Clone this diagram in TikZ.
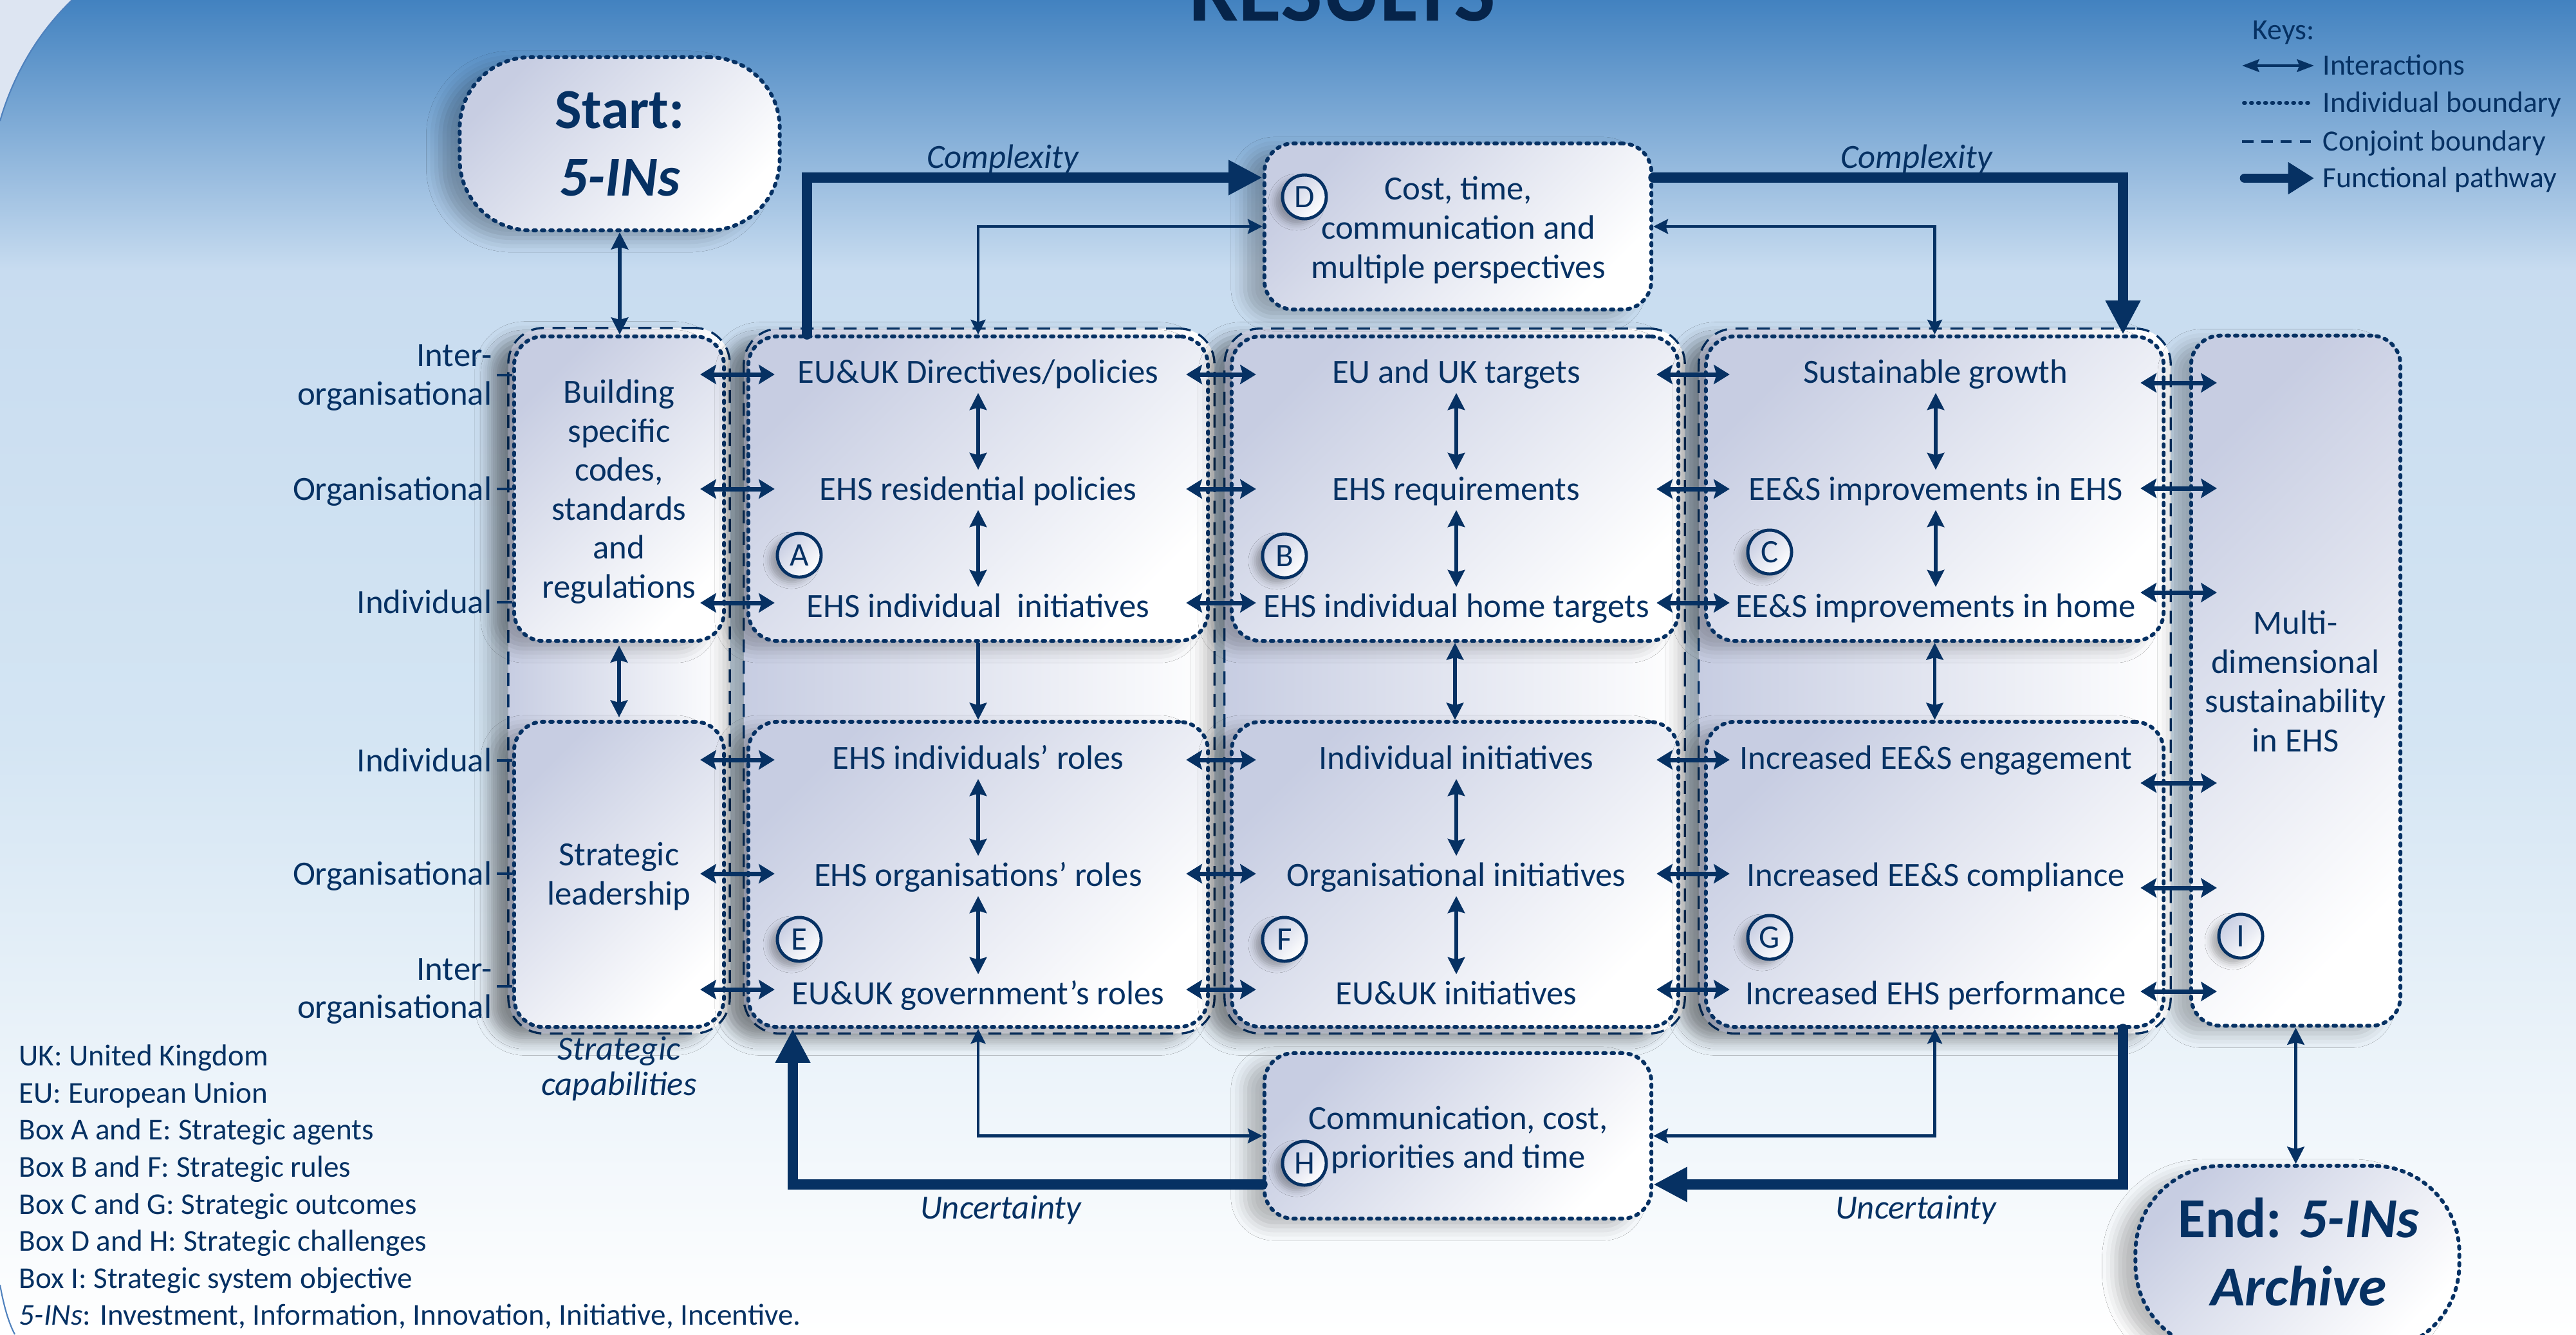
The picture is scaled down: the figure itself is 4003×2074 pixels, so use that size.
\documentclass[tikz,border=0pt]{standalone}
\usepackage{fontspec}
\setmainfont{Carlito}
\usetikzlibrary{arrows.meta,shadows.blur,calc}
\definecolor{navy}{HTML}{063163}
\definecolor{titlec}{HTML}{06244A}
\definecolor{boxtop}{HTML}{C7CDE2}
\definecolor{bgA}{HTML}{4282C0}
\definecolor{bgB}{HTML}{C8DCF0}
\definecolor{bgC}{HTML}{D4E5F3}
\definecolor{cornerc}{HTML}{DDE5F2}
\definecolor{arcc}{HTML}{4F81BD}
\newcommand\myfmain{\fontsize{15pt}{18pt}\selectfont}
\newcommand\myfnote{\fontsize{13.4pt}{16pt}\selectfont}
\newcommand\myfkey{\fontsize{13pt}{15.5pt}\selectfont}
\newcommand\myfbig{\fontsize{25pt}{30pt}\selectfont\bfseries}
\newcommand\myftitle{\fontsize{39pt}{45pt}\selectfont\bfseries}
\newcommand\myflet{\fontsize{14.5pt}{17pt}\selectfont}
\tikzset{
 tl/.style={font=\myfmain, text=navy, inner sep=0pt, text height=9.66pt, text depth=0pt},
 til/.style={tl, font=\myfmain\itshape},
 lbl/.style={tl, anchor=east},
 nl/.style={font=\myfnote, text=navy, inner sep=0pt, text height=8.6pt, text depth=0pt, anchor=west},
 kl/.style={font=\myfkey, text=navy, inner sep=0pt, text height=8.4pt, text depth=0pt, anchor=west},
 bl/.style={font=\myfbig, text=navy, inner sep=0pt, text height=16.1pt, text depth=0pt},
 sh/.style={blur shadow={shadow xshift=-0.3cm, shadow yshift=-0.12cm, shadow opacity=26, shadow blur radius=0.22cm}},
 dotbox/.style={draw=navy, line width=1.7pt, dash pattern=on 1.1pt off 2.6pt, line cap=round, rounded corners=0.45cm, top color=boxtop, bottom color=white, shading angle=45, sh, inner sep=0pt},
 conjbox/.style={draw=navy, line width=0.95pt, dash pattern=on 5.7pt off 3.8pt, rounded corners=0.55cm, left color=boxtop, right color=white, sh, inner sep=0pt},
 letc/.style={circle, draw=navy, line width=1.4pt, minimum size=0.68cm, top color=boxtop, bottom color=white, shading angle=45, font=\myflet, text=navy, inner sep=0pt, text height=9.3pt, text depth=0pt, blur shadow={shadow xshift=-0.12cm, shadow yshift=-0.08cm, shadow opacity=30, shadow blur radius=0.1cm}},
 ia/.style={draw=navy, line width=2pt, {Stealth[length=7pt,width=8.5pt,inset=1.2pt]}-{Stealth[length=7pt,width=8.5pt,inset=1.2pt]}},
 va/.style={draw=navy, line width=1.5pt, {Stealth[length=7.5pt,width=7.5pt,inset=1pt]}-{Stealth[length=7.5pt,width=7.5pt,inset=1pt]}},
 vaone/.style={draw=navy, line width=1.5pt, -{Stealth[length=7.5pt,width=7.5pt,inset=1pt]}},
 ca/.style={draw=navy, line width=1.3pt, {Stealth[length=6.5pt,width=6.5pt,inset=1pt]}-{Stealth[length=6.5pt,width=6.5pt,inset=1pt]}},
 pa/.style={draw=navy, line width=4.5pt, line cap=round, -{Triangle[length=15pt,width=14.5pt]}},
 tickln/.style={draw=navy, line width=1.3pt},
}
\begin{document}
\begin{tikzpicture}[x=0.01cm,y=-0.01cm]
\useasboundingbox (0,0) rectangle (4003,2074);
% background
\fill[top color=bgA, bottom color=bgB] (0,0) rectangle (4003,421);
\fill[top color=bgB, bottom color=bgC] (0,420) rectangle (4003,1151);
\fill[top color=bgC, bottom color=white] (0,1150) rectangle (4003,2074);
\fill[cornerc] (0,0) -- (112,0) .. controls (62,48) and (22,112) .. (0,188) -- cycle;
\draw[arcc, line width=0.6pt] (112,0) .. controls (62,48) and (22,112) .. (0,188);
\fill[white] (0,1997) .. controls (6,2030) and (13,2055) .. (23,2074) -- (0,2074) -- cycle;
\draw[arcc, line width=0.6pt] (0,1997) .. controls (6,2030) and (13,2055) .. (23,2074);
% title
\node[font=\myftitle, text=titlec, anchor=base, inner sep=0pt] (title) at (2086,32) {RESULTS};
% conjoint boundaries
\node[conjbox, minimum width=3.44cm, minimum height=10.96cm] (j0) at (962,1058) {};
\node[conjbox, minimum width=7.31cm, minimum height=10.95cm] (jA) at (1521.5,1058.5) {};
\node[conjbox, minimum width=7.15cm, minimum height=10.95cm] (jB) at (2260.5,1058.5) {};
\node[conjbox, minimum width=7.33cm, minimum height=10.95cm] (jC) at (3006.5,1058.5) {};
% individual boxes
\node[dotbox, minimum width=3.26cm, minimum height=4.73cm] (b0u) at (962,759.5) {};
\node[dotbox, minimum width=3.26cm, minimum height=4.74cm] (b0l) at (962,1359) {};
\node[dotbox, minimum width=7.14cm, minimum height=4.73cm] (Au) at (1520,759.5) {};
\node[dotbox, minimum width=7.14cm, minimum height=4.74cm] (Al) at (1520,1359) {};
\node[dotbox, minimum width=6.94cm, minimum height=4.73cm] (Bu) at (2261,759.5) {};
\node[dotbox, minimum width=6.94cm, minimum height=4.74cm] (Bl) at (2261,1359) {};
\node[dotbox, minimum width=7.11cm, minimum height=4.73cm] (Cu) at (3006.5,759.5) {};
\node[dotbox, minimum width=7.11cm, minimum height=4.74cm] (Cl) at (3006.5,1359) {};
\node[dotbox, minimum width=3.25cm, minimum height=10.72cm] (Ib) at (3567.5,1058) {};
\node[dotbox, minimum width=6.01cm, minimum height=2.58cm] (D) at (2265.5,352) {};
\node[dotbox, minimum width=6.01cm, minimum height=2.57cm] (H) at (2265.5,1765.5) {};
\node[dotbox, rounded corners=1.1cm, minimum width=4.97cm, minimum height=2.69cm] (S) at (963,223.5) {};
\node[dotbox, rounded corners=1.35cm, minimum width=5.03cm, minimum height=2.88cm] (End) at (3570,1956) {};
% circled letters
\node[letc] (cA) at (1242,863) {A};
\node[letc] (cB) at (1996,864) {B};
\node[letc] (cC) at (2750,858) {C};
\node[letc] (cD) at (2027,306) {D};
\node[letc] (cE) at (1242,1460) {E};
\node[letc] (cF) at (1996,1460) {F};
\node[letc] (cG) at (2750,1457) {G};
\node[letc] (cH) at (2027,1808) {H};
\node[letc] (cI) at (3482,1455) {I};
% start / end
\node[bl] (s1) at (963,171) {Start:};
\node[bl] (s2) at (963,276) {\itshape 5-INs};
\node[bl] (n1) at (3572,1895) {End: \textit{5-INs}};
\node[bl] (n2) at (3572,2001) {\itshape Archive};
% column 0
\node[tl] (t0a) at (962,609) {Building};
\node[tl] (t0b) at (962,670) {specific};
\node[tl] (t0c) at (962,730) {codes,};
\node[tl] (t0d) at (962,791) {standards};
\node[tl] (t0e) at (962,851) {and};
\node[tl] (t0f) at (962,912) {regulations};
\node[tl] (t0g) at (962,1328) {Strategic};
\node[tl] (t0h) at (962,1389) {leadership};
\node[til] (sc1) at (962,1630) {Strategic};
\node[til] (sc2) at (962,1685) {capabilities};
% column A/E
\node[tl] (a1) at (1520,578) {EU\&UK Directives/policies};
\node[tl] (a2) at (1520,760) {EHS residential policies};
\node[tl] (a3) at (1520,942) {EHS individual\ \ initiatives};
\node[tl] (e1) at (1520,1178) {EHS individuals’ roles};
\node[tl] (e2) at (1520,1360) {EHS organisations’ roles};
\node[tl] (e3) at (1520,1544) {EU\&UK government’s roles};
% column B/F
\node[tl] (b1) at (2263,578) {EU and UK targets};
\node[tl] (b2) at (2263,760) {EHS requirements};
\node[tl] (b3) at (2263,942) {EHS individual home targets};
\node[tl] (f1) at (2263,1178) {Individual initiatives};
\node[tl] (f2) at (2263,1360) {Organisational initiatives};
\node[tl] (f3) at (2263,1544) {EU\&UK initiatives};
% column C/G
\node[tl] (c1) at (3008,578) {Sustainable growth};
\node[tl] (c2) at (3008,760) {EE\&S improvements in EHS};
\node[tl] (c3) at (3008,942) {EE\&S improvements in home};
\node[tl] (g1) at (3008,1178) {Increased EE\&S engagement};
\node[tl] (g2) at (3008,1360) {Increased EE\&S compliance};
\node[tl] (g3) at (3008,1544) {Increased EHS performance};
% column I
\node[tl] (i1) at (3567,968) {Multi-};
\node[tl] (i2) at (3567,1029) {dimensional};
\node[tl] (i3) at (3567,1090) {sustainability};
\node[tl] (i4) at (3567,1151) {in EHS};
% D and H
\node[tl] (d1) at (2266,293) {Cost, time,};
\node[tl] (d2) at (2266,354) {communication and};
\node[tl] (d3) at (2266,415) {multiple perspectives};
\node[tl] (h1) at (2266,1738) {Communication, cost,};
\node[tl] (h2) at (2266,1798) {priorities and time};
% pathway labels
\node[til] (cx1) at (1558,244) {Complexity};
\node[til] (cx2) at (2978,244) {Complexity};
\node[til] (un1) at (1555,1877) {Uncertainty};
\node[til] (un2) at (2977,1877) {Uncertainty};
% left labels
\node[lbl] (l1a) at (765,552) {Inter-};
\node[lbl] (l1b) at (765,612) {organisational};
\node[lbl] (l2) at (765,760) {Organisational};
\node[lbl] (l3) at (765,936) {Individual};
\node[lbl] (l4) at (765,1182) {Individual};
\node[lbl] (l5) at (765,1358) {Organisational};
\node[lbl] (l6a) at (765,1506) {Inter-};
\node[lbl] (l6b) at (765,1565) {organisational};
\coordinate (tk1) at (772,583);
\coordinate (tk2) at (772,760);
\coordinate (tk3) at (772,936);
\coordinate (tk4) at (772,1182);
\coordinate (tk5) at (772,1358);
\coordinate (tk6) at (772,1533);
\foreach \t in {tk1,tk2,tk3}{\draw[tickln] (\t) -- (b0u.west |- \t);}
\foreach \t in {tk4,tk5,tk6}{\draw[tickln] (\t) -- (b0l.west |- \t);}
% rows
\coordinate (r1) at (0,582);
\coordinate (r2) at (0,760);
\coordinate (r3) at (0,937);
\coordinate (r4) at (0,1181);
\coordinate (r5) at (0,1358);
\coordinate (r6) at (0,1538);
\coordinate (q1) at (0,595);
\coordinate (q2) at (0,759);
\coordinate (q3) at (0,921);
\coordinate (q4) at (0,1217);
\coordinate (q5) at (0,1380);
\coordinate (q6) at (0,1541);
\foreach \r/\z/\a/\b/\c in {r1/b0u/Au/Bu/Cu,r2/b0u/Au/Bu/Cu,r3/b0u/Au/Bu/Cu,r4/b0l/Al/Bl/Cl,r5/b0l/Al/Bl/Cl,r6/b0l/Al/Bl/Cl}{
 \draw[ia] ($(\z.east |- \r)+(-40,0)$) -- ($(\a.west |- \r)+(44,0)$);
 \draw[ia] ($(\a.east |- \r)+(-37,0)$) -- ($(\b.west |- \r)+(41,0)$);
 \draw[ia] ($(\b.east |- \r)+(-37,0)$) -- ($(\c.west |- \r)+(40,0)$);
}
\foreach \r/\c in {q1/Cu,q2/Cu,q3/Cu,q4/Cl,q5/Cl,q6/Cl}{
 \draw[ia] ($(\c.east |- \r)+(-39,0)$) -- ($(Ib.west |- \r)+(43,0)$);
}
% vertical arrows inside boxes
\foreach \u/\l in {a1/a2,a2/a3,e1/e2,e2/e3,b1/b2,b2/b3,f1/f2,f2/f3,c1/c2,c2/c3}{
 \draw[va] ($(\u.south)+(0,15)$) -- ($(\l.north)+(0,-12)$);
}
% between upper and lower boxes
\draw[va] ($(b0u.south)+(0,4)$) -- ($(b0l.north)+(0,-4)$);
\draw[vaone] (Au.south) -- (Al.north);
\draw[va] (Bu.south) -- (Bl.north);
\draw[va] (Cu.south) -- (Cl.north);
\draw[va] (S.south) -- (S.south |- b0u.north);
\draw[va] (Ib.south) -- (Ib.south |- End.north);
% thin connectors
\draw[ca] (D.west) -| (Au.north);
\draw[ca] (D.east) -| (Cu.north);
\draw[ca] (Al.south) |- (H.west);
\draw[ca] (Cl.south) |- (H.east);
% functional pathways
\draw[pa] ($(Au.north)+(-266,0)$) |- ($(D.west)+(0,-76)$);
\draw[pa] ($(D.east)+(0,-76)$) -| ($(Cu.north)+(292.5,0)$);
\draw[pa] ($(Cl.south)+(292.5,0)$) |- ($(H.east)+(0,75.5)$);
\draw[pa] ($(H.west)+(0,75.5)$) -| ($(Al.south)+(-288,0)$);
% legend
\node[kl] (keys) at (3500,47) {Keys:};
\node[kl] (kt1) at (3609,102) {Interactions};
\node[kl] (kt2) at (3609,160) {Individual boundary};
\node[kl] (kt3) at (3609,220) {Conjoint boundary};
\node[kl] (kt4) at (3609,277) {Functional pathway};
\draw[draw=navy, line width=1.4pt, {Stealth[length=7.5pt,width=5.5pt,inset=1pt]}-{Stealth[length=7.5pt,width=5.5pt,inset=1pt]}] ($(kt1.west)+(-125,0)$) -- ($(kt1.west)+(-13,0)$);
\draw[draw=navy, line width=1.7pt, dash pattern=on 0.5pt off 2.6pt, line cap=round] ($(kt2.west)+(-122,0)$) -- ($(kt2.west)+(-14,0)$);
\draw[draw=navy, line width=0.9pt, dash pattern=on 5pt off 3.5pt] ($(kt3.west)+(-125,0)$) -- ($(kt3.west)+(-13,0)$);
\draw[draw=navy, line width=4.2pt, line cap=round, -{Triangle[length=11.5pt,width=13.5pt]}] ($(kt4.west)+(-121,0)$) -- ($(kt4.west)+(-13,0)$);
% notes
\node[nl] (nt1) at (29,1641) {UK: United Kingdom};
\node[nl] (nt2) at (29,1699) {EU: European Union};
\node[nl] (nt3) at (29,1756) {Box A and E: Strategic agents};
\node[nl] (nt4) at (29,1814) {Box B and F: Strategic rules};
\node[nl] (nt5) at (29,1872) {Box C and G: Strategic outcomes};
\node[nl] (nt6) at (29,1929) {Box D and H: Strategic challenges};
\node[nl] (nt7) at (29,1987) {Box I: Strategic system objective};
\node[nl] (nt8) at (29,2044) {\textit{5-INs}: Investment, Information, Innovation, Initiative, Incentive.};
\end{tikzpicture}
\end{document}
